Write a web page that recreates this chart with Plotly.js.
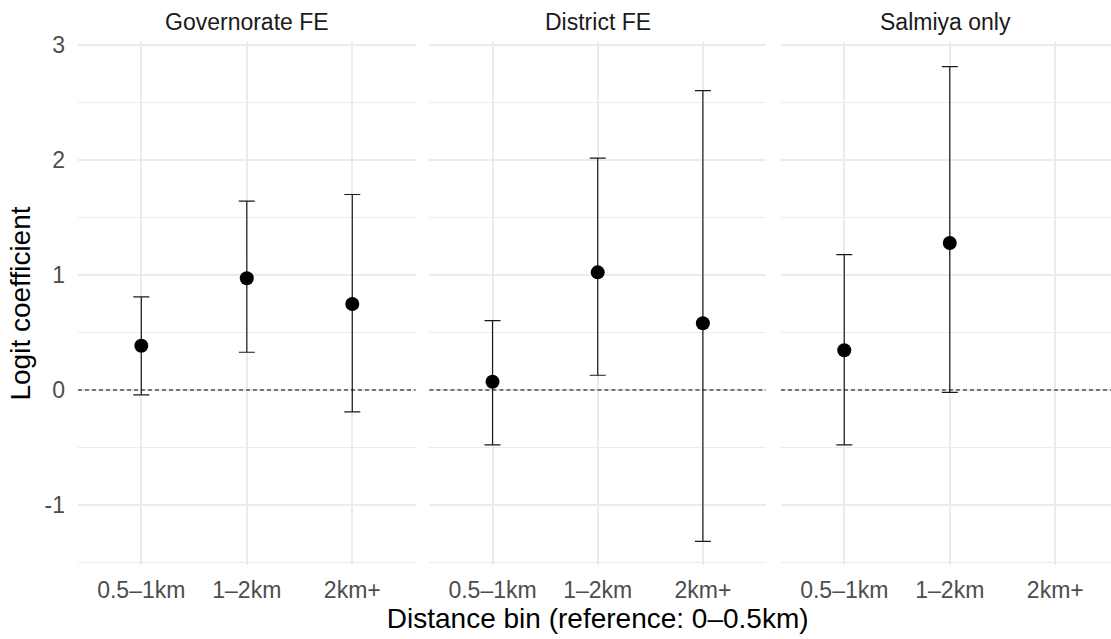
<!DOCTYPE html>
<html>
<head>
<meta charset="utf-8">
<script src="https://cdn.plot.ly/plotly-3.0.1.min.js"></script>
<style>html,body{margin:0;padding:0;background:#fff}#chart{width:1111px;height:639px}</style>
</head>
<body>
<div id="chart"></div>
<script>
const categories = ['0.5–1km', '1–2km', '2km+'];
const panelTitles = ['Governorate FE', 'District FE', 'Salmiya only'];
const yTickVals = [-1, 0, 1, 2, 3];
const yTickText = ['-1', '0', '1', '2', '3'];

const govEst = [0.385, 0.971, 0.748];
const govLo  = [-0.043, 0.328, -0.191];
const govHi  = [0.81, 1.643, 1.70];

const distEst = [0.072, 1.023, 0.58];
const distLo  = [-0.478, 0.128, -1.316];
const distHi  = [0.603, 2.017, 2.603];

const salCats = ['0.5–1km', '1–2km'];
const salEst = [0.345, 1.278];
const salLo  = [-0.478, -0.02];
const salHi  = [1.177, 2.811];

const yTitle = 'Logit coefficient';
const xTitle = 'Distance bin (reference: 0–0.5km)';

const FONT = 'Liberation Sans, Arial, sans-serif';

function mkTrace(x, est, lo, hi, xa) {
  return {
    type: 'scatter', mode: 'markers',
    x: x, y: est, xaxis: xa, yaxis: 'y',
    marker: {color: '#000000', size: 14},
    error_y: {
      type: 'data', symmetric: false,
      array: hi.map((h, i) => h - est[i]),
      arrayminus: lo.map((l, i) => est[i] - l),
      color: '#1a1a1a', thickness: 1.2, width: 8
    },
    showlegend: false, hoverinfo: 'x+y'
  };
}

const data = [
  mkTrace(categories, govEst, govLo, govHi, 'x'),
  mkTrace(categories, distEst, distLo, distHi, 'x2'),
  mkTrace(salCats, salEst, salLo, salHi, 'x3')
];

const domains = [[0, 0.3268], [0.3402, 0.666], [0.6805, 1]];
const ranges = [[-0.6, 2.6], [-0.6, 2.6], [-0.6, 2.528]];

function xAxis(i) {
  return {
    domain: domains[i], anchor: 'y',
    type: 'category', categoryorder: 'array', categoryarray: categories,
    range: ranges[i],
    showgrid: true, gridcolor: '#EBEBEB', gridwidth: 1.6,
    zeroline: false, showline: false, ticks: '',
    ticklabelstandoff: 9,
    tickfont: {family: FONT, size: 23, color: '#4D4D4D'},
    fixedrange: true
  };
}

const layout = {
  width: 1111, height: 639,
  margin: {l: 78, r: 0, t: 42, b: 74},
  paper_bgcolor: '#ffffff', plot_bgcolor: '#ffffff',
  font: {family: FONT},
  xaxis: xAxis(0),
  xaxis2: Object.assign(xAxis(1), {title: {text: xTitle, font: {family: FONT, size: 28, color: '#000000'}, standoff: 3}}),
  xaxis3: xAxis(2),
  yaxis: {
    range: [-1.522, 3.026],
    tickmode: 'array', tickvals: yTickVals, ticktext: yTickText,
    showgrid: true, gridcolor: '#EBEBEB', gridwidth: 1.6,
    minor: {dtick: 0.5, tick0: 0, showgrid: true, gridcolor: '#EBEBEB', gridwidth: 0.8, ticks: ''},
    zeroline: false, showline: false, ticks: '',
    ticklabelstandoff: 12,
    tickfont: {family: FONT, size: 23, color: '#4D4D4D'},
    title: {text: yTitle, font: {family: FONT, size: 28, color: '#000000'}, standoff: 5},
    fixedrange: true
  },
  shapes: ['x', 'x2', 'x3'].map(xa => ({
    type: 'line', xref: xa + ' domain', yref: 'y',
    x0: 0, x1: 1, y0: 0, y1: 0,
    line: {color: '#000000', width: 1, dash: '4px,3px'}
  })),
  annotations: panelTitles.map((t, i) => ({
    text: t, showarrow: false,
    xref: 'paper', yref: 'paper',
    x: (domains[i][0] + domains[i][1]) / 2, y: 1,
    xanchor: 'center', yanchor: 'middle', yshift: 20,
    font: {family: FONT, size: 23, color: '#1A1A1A'}
  }))
};

Plotly.newPlot('chart', data, layout, {displayModeBar: false});
</script>
</body>
</html>
